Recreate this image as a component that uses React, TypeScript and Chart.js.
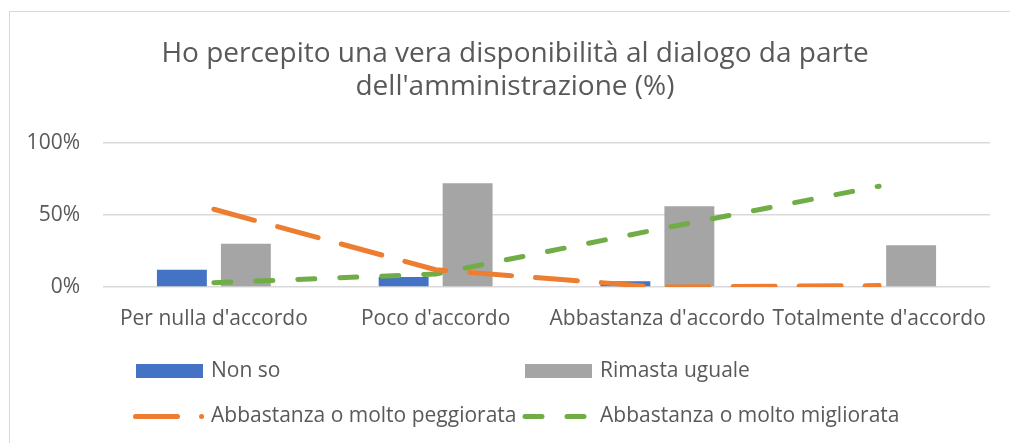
import React, { useEffect, useRef } from "react";
import { Chart, registerables } from "chart.js";

Chart.register(...registerables);

// ---- data ----
const categories = ["Per nulla d'accordo", "Poco d'accordo", "Abbastanza d'accordo", "Totalmente d'accordo"];
const nonSo = [12, 7, 4, 0];
const rimastaUguale = [30, 72, 56, 29];
const peggiorata = [54, 12, 0, 1];
const migliorata = [3, 9, 40, 70];
const yTickValues = [0, 50, 100];
const titleLines = ["Ho percepito una vera disponibilità al dialogo da parte", "dell'amministrazione (%)"];
const seriesLabels = ["Non so", "Rimasta uguale", "Abbastanza o molto peggiorata", "Abbastanza o molto migliorata"];

// ---- style ----
const FONT = "'Open Sans', 'Noto Sans', sans-serif";
const TEXT = "#595959";
const GRID = "#d9d9d9";
const BLUE = "#4472C4";
const GRAY = "#A5A5A5";
const ORANGE = "#ED7D31";
const GREEN = "#70AD47";

const decorPlugin = {
  id: "decor",
  beforeDraw(chart: any) {
    const ctx = chart.ctx;
    ctx.save();
    ctx.fillStyle = "#ffffff";
    ctx.fillRect(0, 0, chart.width, chart.height);
    ctx.strokeStyle = GRID;
    ctx.lineWidth = 1;
    ctx.strokeRect(9.5, 11.5, chart.width + 20, chart.height + 20);
    ctx.restore();
  },
  afterDraw(chart: any) {
    const ctx = chart.ctx;
    const ds = chart.data.datasets;
    ctx.save();
    // title
    ctx.fillStyle = TEXT;
    ctx.font = `28px ${FONT}`;
    ctx.textAlign = "center";
    ctx.textBaseline = "alphabetic";
    titleLines.forEach((line, i) => ctx.fillText(line, 515, 62 + i * 33));

    // legend
    ctx.font = `21px ${FONT}`;
    ctx.textAlign = "left";
    ctx.textBaseline = "middle";
    const row1 = 371;
    const row2 = 416.5;
    const boxes = [
      { i: 0, x: 136, tx: 211 },
      { i: 1, x: 525, tx: 600 },
    ];
    boxes.forEach((b) => {
      ctx.fillStyle = ds[b.i].backgroundColor;
      ctx.fillRect(b.x, row1 - 7, 67, 14);
      ctx.fillStyle = TEXT;
      ctx.fillText(ds[b.i].label, b.tx, row1);
    });
    const lines = [
      { i: 2, x0: 135.5, x1: 201.6, tx: 211 },
      { i: 3, x0: 525, x1: 585, tx: 600 },
    ];
    lines.forEach((l) => {
      ctx.save();
      ctx.strokeStyle = ds[l.i].borderColor;
      ctx.lineWidth = ds[l.i].borderWidth;
      ctx.lineCap = "round";
      ctx.setLineDash(ds[l.i].borderDash);
      ctx.beginPath();
      ctx.moveTo(l.x0, row2);
      ctx.lineTo(l.x1, row2);
      ctx.stroke();
      ctx.restore();
      ctx.fillStyle = TEXT;
      ctx.fillText(ds[l.i].label, l.tx, row2);
    });
    ctx.restore();
  },
};

export default function App() {
  const ref = useRef<HTMLCanvasElement | null>(null);

  useEffect(() => {
    document.body.style.margin = "0";
    Chart.defaults.font.family = FONT;
    const canvas = ref.current;
    if (!canvas) return;
    const chart = new Chart(canvas, {
      type: "bar",
      data: {
        labels: categories,
        datasets: [
          {
            type: "bar",
            label: seriesLabels[0],
            data: nonSo,
            backgroundColor: BLUE,
            categoryPercentage: 0.577,
            barPercentage: 0.78,
            order: 2,
          },
          {
            type: "bar",
            label: seriesLabels[1],
            data: rimastaUguale,
            backgroundColor: GRAY,
            categoryPercentage: 0.577,
            barPercentage: 0.78,
            order: 2,
          },
          {
            type: "line",
            label: seriesLabels[2],
            data: peggiorata,
            borderColor: ORANGE,
            backgroundColor: ORANGE,
            borderWidth: 5,
            borderDash: [42, 24],
            borderCapStyle: "round",
            borderJoinStyle: "round",
            pointRadius: 0,
            tension: 0,
            fill: false,
            order: 0,
          },
          {
            type: "line",
            label: seriesLabels[3],
            data: migliorata,
            borderColor: GREEN,
            backgroundColor: GREEN,
            borderWidth: 5,
            borderDash: [17, 25],
            borderCapStyle: "round",
            borderJoinStyle: "round",
            pointRadius: 0,
            tension: 0,
            fill: false,
            order: 1,
          },
        ] as any,
      },
      options: {
        responsive: false,
        animation: false,
        layout: { padding: { top: 143, right: 20, bottom: 0, left: 0 } },
        plugins: {
          legend: { display: false },
          title: { display: false },
          tooltip: { enabled: false },
        },
        scales: {
          x: {
            grid: { display: false, drawTicks: false },
            border: { display: false },
            ticks: {
              color: TEXT,
              font: { size: 21, family: FONT },
              padding: 19,
              maxRotation: 0,
              autoSkip: false,
            },
            afterFit: (scale: any) => {
              scale.height = 156;
            },
          },
          y: {
            min: 0,
            max: 100,
            grid: { color: GRID, lineWidth: 1.5, drawTicks: false },
            border: { display: false },
            ticks: {
              color: TEXT,
              font: { size: 21, family: FONT },
              padding: 23,
              callback: (v: any) => `${v}%`,
            },
            afterBuildTicks: (scale: any) => {
              scale.ticks = yTickValues.map((v) => ({ value: v }));
            },
            afterFit: (scale: any) => {
              scale.width = 103;
            },
          },
        },
      } as any,
      plugins: [decorPlugin],
    });
    return () => chart.destroy();
  }, []);

  return (
    <div style={{ width: 1010, height: 443 }}>
      <canvas ref={ref} width={1010} height={443} style={{ display: "block" }} />
    </div>
  );
}
